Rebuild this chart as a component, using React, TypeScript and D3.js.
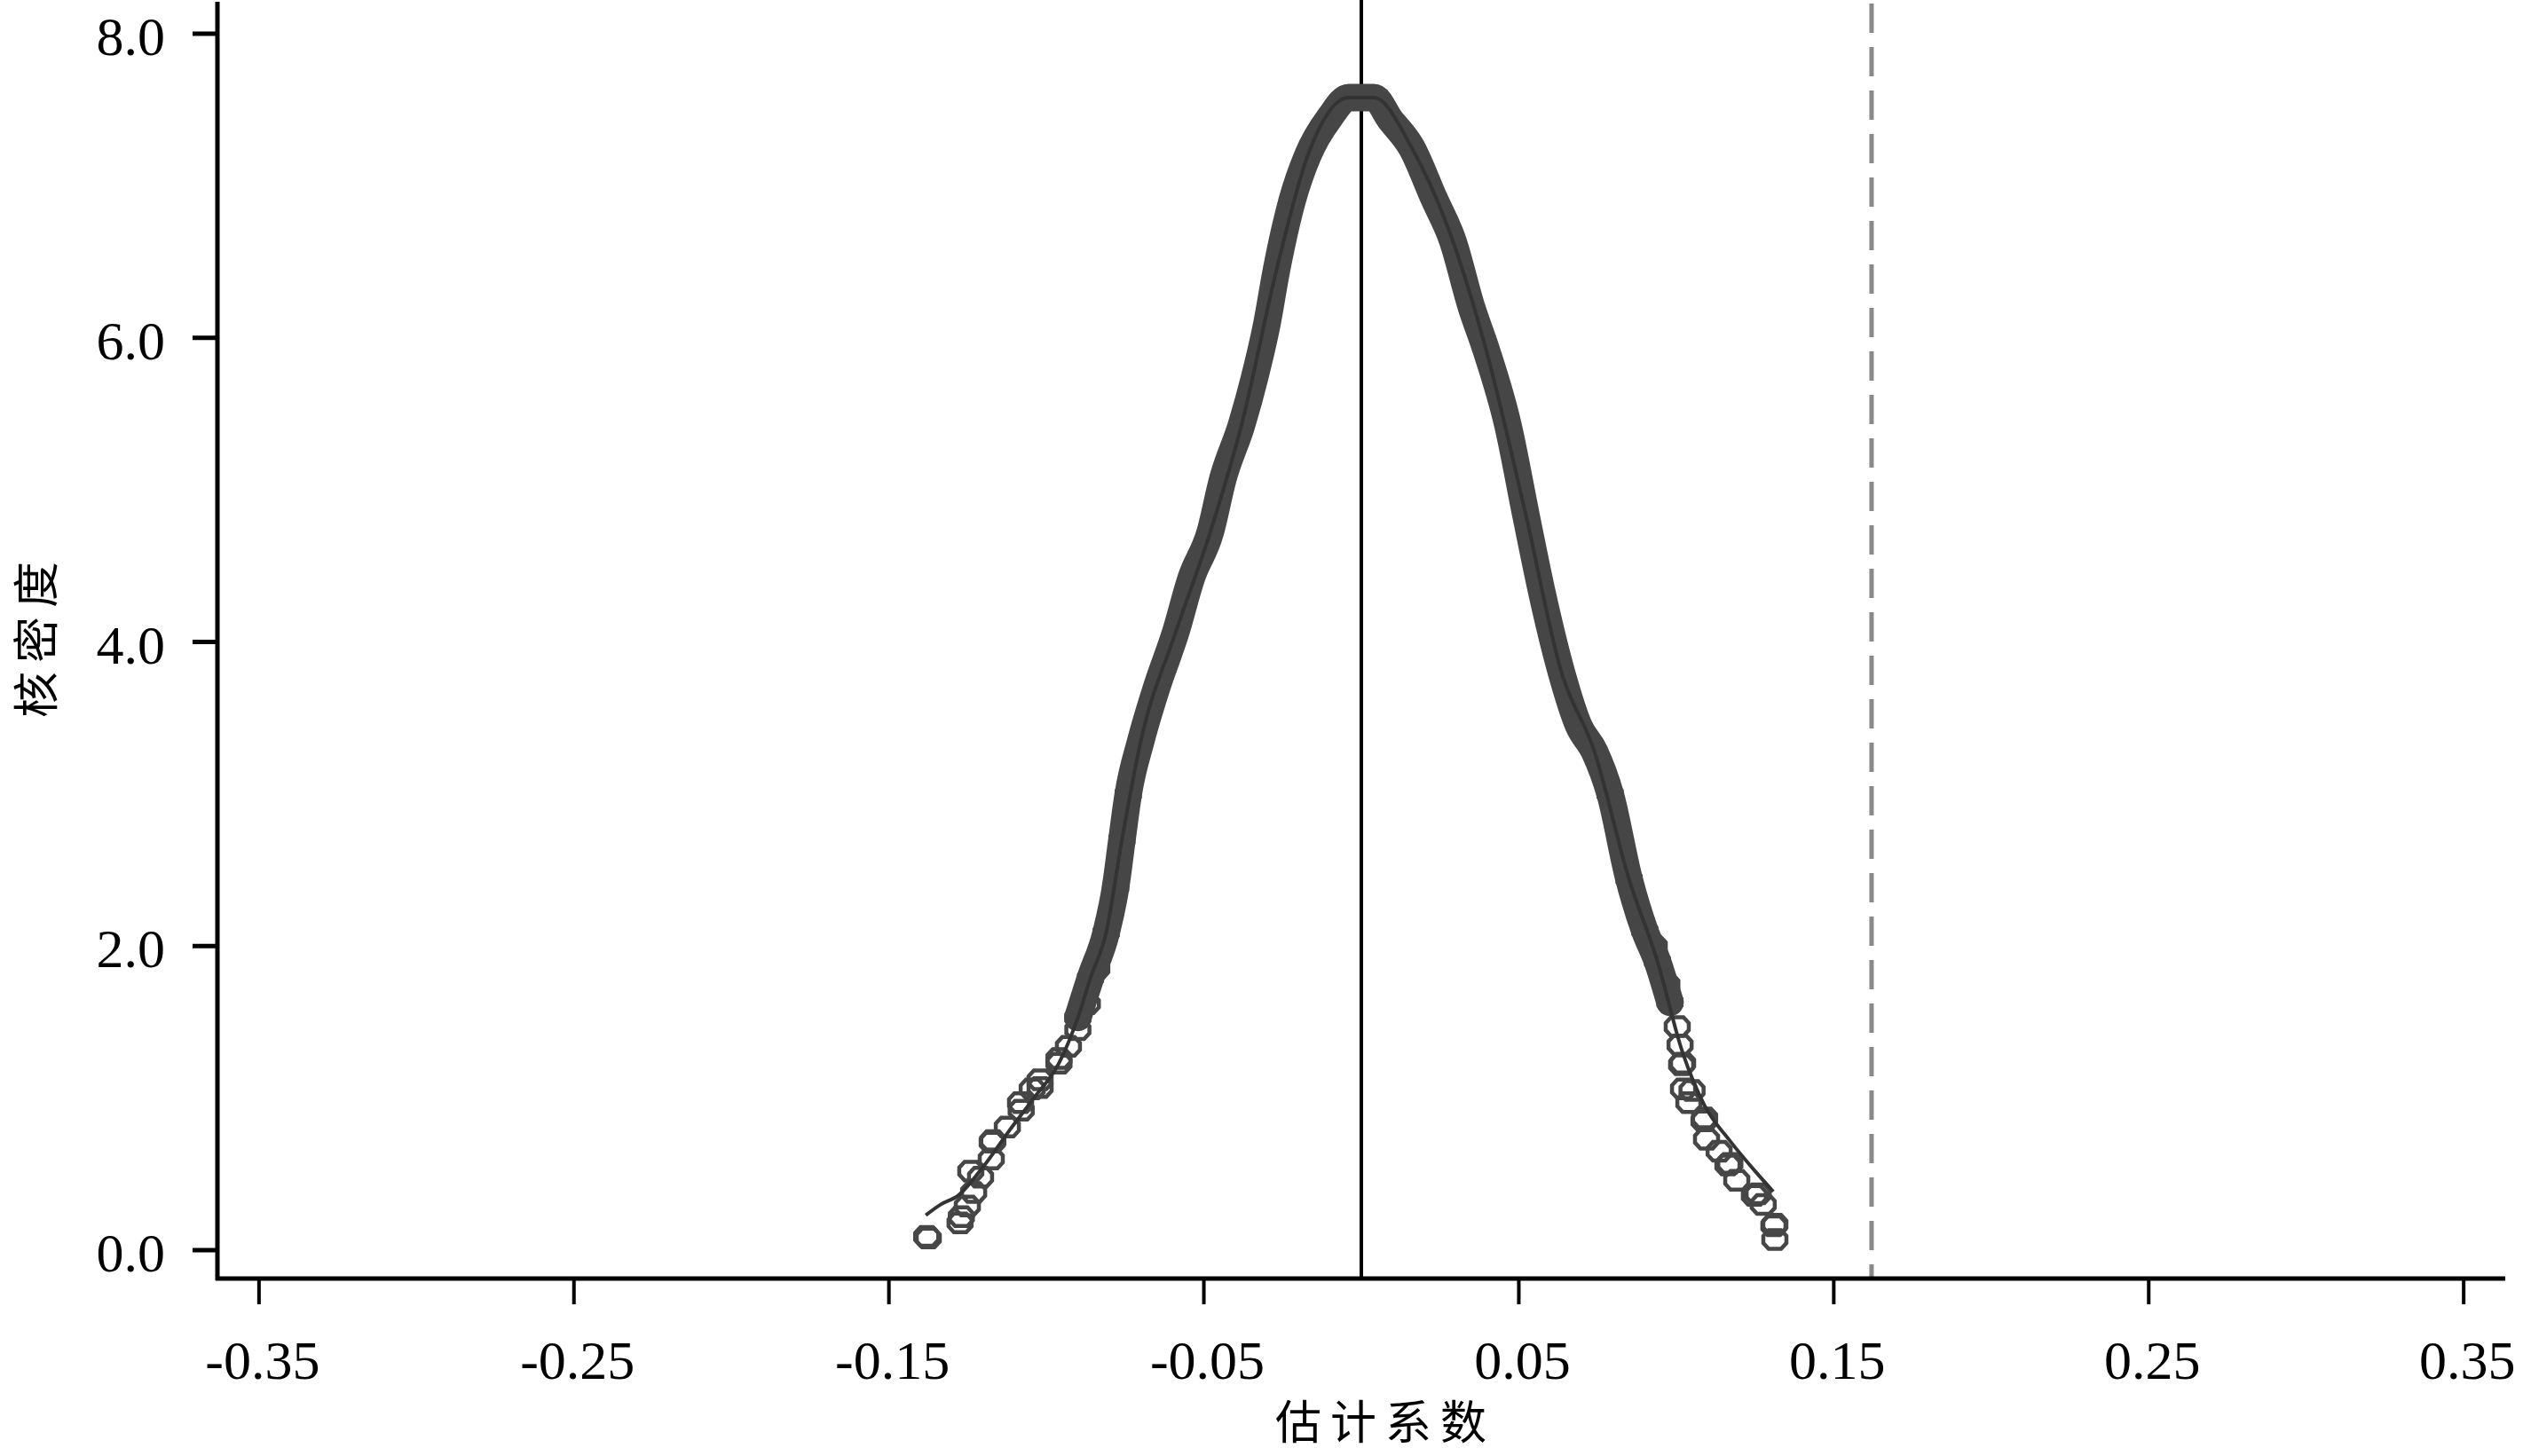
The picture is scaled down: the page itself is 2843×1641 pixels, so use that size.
import React, { useEffect } from "react";
import * as d3 from "d3";

// ---- data ----
const xTicks = [-0.35, -0.25, -0.15, -0.05, 0.05, 0.15, 0.25, 0.35];
const yTicks = [0, 2, 4, 6, 8];
const xTitle = "估计系数";
const yTitle = "核密度";
const zeroLine = 0;
const actualCoef = 0.162;

// kernel density of the placebo coefficients (band centre)
const curveX = [-0.138, -0.127, -0.124, -0.117, -0.108, -0.102, -0.096, -0.09, -0.086, -0.081, -0.078, -0.076, -0.074, -0.07, -0.065, -0.059, -0.054, -0.048, -0.044, -0.038, -0.034, -0.03, -0.027, -0.022, -0.017, -0.01, -0.004, 0.004, 0.009, 0.016, 0.023, 0.029, 0.035, 0.0395, 0.0465, 0.0524, 0.0575, 0.0634, 0.069, 0.074, 0.079, 0.085, 0.09, 0.094, 0.098, 0.102, 0.105, 0.109, 0.117, 0.126, 0.131];
const curveY = [0.09, 0.22, 0.52, 0.72, 0.92, 1.07, 1.23, 1.53, 1.79, 2.09, 2.39, 2.7, 3.0, 3.35, 3.7, 4.06, 4.42, 4.72, 5.07, 5.43, 5.73, 6.09, 6.44, 6.9, 7.2, 7.45, 7.58, 7.58, 7.44, 7.25, 6.92, 6.64, 6.2, 5.93, 5.43, 4.82, 4.31, 3.81, 3.45, 3.28, 3.0, 2.44, 2.1, 1.9, 1.63, 1.23, 1.05, 0.87, 0.57, 0.37, 0.16];

// thin density line
const kdeX = [-0.1383, -0.1336, -0.128, -0.12, -0.112, -0.104, -0.096, -0.09, -0.086, -0.081, -0.076, -0.07, -0.059, -0.048, -0.038, -0.027, -0.017, -0.004, 0.004, 0.016, 0.029, 0.0395, 0.0524, 0.0634, 0.074, 0.085, 0.094, 0.102, 0.109, 0.117, 0.125, 0.1308];
const kdeY = [0.23, 0.3, 0.36, 0.55, 0.78, 1.0, 1.23, 1.53, 1.79, 2.09, 2.7, 3.35, 4.06, 4.72, 5.43, 6.44, 7.2, 7.58, 7.58, 7.25, 6.64, 5.93, 4.82, 3.81, 3.28, 2.44, 1.9, 1.3, 0.95, 0.72, 0.52, 0.385];

// individual hollow markers visible in the tails
const tailX = [-0.1375, -0.1274, -0.1251, -0.1231, -0.1209, -0.1175, -0.1172, -0.1124, -0.1082, -0.1045, -0.102, -0.096, -0.093, -0.09, -0.087, -0.084, 0.1313, 0.1313, 0.1276, 0.1248, 0.1192, 0.1164, 0.1136, 0.1096, 0.1088, 0.104, 0.1023, 0.1017, 0.1012, 0.1003, 0.097, 0.093];
const tailY = [0.08, 0.18, 0.29, 0.38, 0.48, 0.6, 0.71, 0.81, 0.97, 1.06, 1.12, 1.26, 1.34, 1.45, 1.62, 1.85, 0.07, 0.17, 0.3, 0.36, 0.46, 0.56, 0.65, 0.73, 0.85, 0.97, 1.06, 1.22, 1.35, 1.47, 1.75, 2.0];

const W = 2843;
const H = 1641;
const serif = "'Liberation Serif', 'Times New Roman', serif";
const cjk = "'Noto Sans CJK SC', sans-serif";
const ink = "#464646";

// octagonal hollow marker outline (as rendered in the reference)
const markerPath = "M-13,-4L-7,-10.5L7,-10.5L13,-4L13,4L7,10.5L-7,10.5L-13,4Z";

export default function App() {
  useEffect(() => {
    document.body.style.margin = "0";
    document.body.style.overflow = "hidden";
  }, []);

  const x = d3.scaleLinear().domain([-0.3632, 0.3632]).range([245, 2823]);
  const y = d3.scaleLinear().domain([0, 8]).range([1409, 38]);
  const axisY = 1441;
  const axisX = 245;

  const curvePts = curveX.map((v, i) => [v, curveY[i]] as [number, number]);
  const bandPts = curvePts.filter((p) => p[1] >= 1.5);
  const line = d3
    .line<[number, number]>()
    .x((p) => x(p[0]))
    .y((p) => y(p[1]))
    .curve(d3.curveMonotoneX);
  const kdePts = kdeX.map((v, i) => [v, kdeY[i]] as [number, number]);

  const markerPts = [
    ...curvePts.filter((p) => p[1] < 3.2),
    ...tailX.map((v, i) => [v, tailY[i]] as [number, number]),
  ];

  return (
    <svg
      width={W}
      height={H}
      style={{ position: "absolute", left: 0, top: 0, background: "#fff" }}
    >
      <rect x={0} y={0} width={W} height={H} fill="#fff" />

      {/* reference lines */}
      <line x1={x(zeroLine)} x2={x(zeroLine)} y1={0} y2={axisY} stroke="#000" strokeWidth={4} />
      <line
        x1={x(actualCoef)}
        x2={x(actualCoef)}
        y1={4}
        y2={axisY}
        stroke="#8a8a8a"
        strokeWidth={5}
        strokeDasharray="33 16"
      />

      {/* density band */}
      <path
        d={line(bandPts) || ""}
        fill="none"
        stroke={ink}
        strokeWidth={31}
        strokeLinejoin="round"
        strokeLinecap="round"
      />
      {markerPts.map((p, i) => (
        <path
          key={i}
          d={markerPath}
          transform={`translate(${x(p[0])},${y(p[1])})`}
          fill="none"
          stroke={ink}
          strokeWidth={4.5}
        />
      ))}
      <path d={line(kdePts) || ""} fill="none" stroke="#333" strokeWidth={4} />

      {/* axes */}
      <line x1={axisX} x2={axisX} y1={2} y2={axisY + 2} stroke="#000" strokeWidth={5} />
      <line x1={axisX - 2} x2={2823} y1={axisY} y2={axisY} stroke="#000" strokeWidth={5} />
      {yTicks.map((t) => (
        <g key={"y" + t}>
          <line x1={217} x2={axisX} y1={y(t)} y2={y(t)} stroke="#000" strokeWidth={5} />
          <text
            x={186}
            y={y(t) + 24}
            textAnchor="end"
            fontFamily={serif}
            fontSize={62}
            fill="#000"
          >
            {t.toFixed(1)}
          </text>
        </g>
      ))}
      {xTicks.map((t) => (
        <g key={"x" + t}>
          <line x1={x(t)} x2={x(t)} y1={axisY} y2={axisY + 29} stroke="#000" strokeWidth={4} />
          <text
            x={x(t) + 4}
            y={1554}
            textAnchor="middle"
            fontFamily={serif}
            fontSize={62}
            fill="#000"
          >
            {t.toFixed(2)}
          </text>
        </g>
      ))}

      {/* axis titles */}
      <text
        x={1561}
        y={1622}
        textAnchor="middle"
        fontFamily={cjk}
        fontSize={52}
        letterSpacing={10}
        fill="#000"
      >
        {xTitle}
      </text>
      <text
        transform={`translate(60,716) rotate(-90)`}
        textAnchor="middle"
        fontFamily={cjk}
        fontSize={52}
        letterSpacing={10}
        fill="#000"
      >
        {yTitle}
      </text>
    </svg>
  );
}
